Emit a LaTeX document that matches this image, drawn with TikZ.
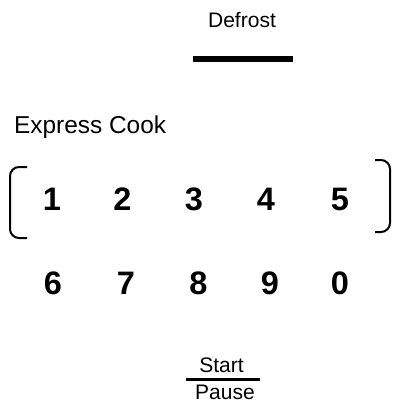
\documentclass[tikz,border=0pt]{standalone}
\usepackage{fontspec}
\setmainfont{Liberation Sans}
\tikzset{
  lbl/.style={inner sep=0pt, font=\fontsize{21}{25}\selectfont},
  biglbl/.style={inner sep=0pt, font=\fontsize{24.4}{28}\selectfont},
  digit/.style={inner sep=0pt, anchor=base, font=\fontsize{32.5}{36}\selectfont\bfseries},
  bar/.style={line width=#1},
  brk/.style={line width=2pt, rounded corners=9pt}
}
\begin{document}
\begin{tikzpicture}[x=1pt,y=-1pt]
\useasboundingbox (0,0) rectangle (394,406);
\node[lbl, anchor=base] (defrost) at (242,28) {Defrost};
\coordinate (d1) at (193,59);
\coordinate (d2) at (293,59);
\draw[bar=6pt] (d1) -- (d2);
\node[biglbl, anchor=base west] (express) at (14,134) {Express Cook};
\node[digit] (k1) at (52,210) {1};
\node[digit] (k2) at (122.5,210) {2};
\node[digit] (k3) at (194,210) {3};
\node[digit] (k4) at (266,210) {4};
\node[digit] (k5) at (340,210) {5};
\node[digit] (k6) at (53,294) {6};
\node[digit] (k7) at (126,294) {7};
\node[digit] (k8) at (198.5,294) {8};
\node[digit] (k9) at (270,294) {9};
\node[digit] (k0) at (340,294) {0};
\draw[brk] (27,167) -- (10,167) -- (10,238) -- (27,238);
\draw[brk] (375,160) -- (390,160) -- (390,232) -- (375,232);
\node[lbl, anchor=base] (start) at (221.5,372) {Start};
\coordinate (s1) at (186,379.5);
\coordinate (s2) at (260,379.5);
\draw[bar=3pt] (s1) -- (s2);
\node[lbl, anchor=base] (pause) at (225,399) {Pause};
\end{tikzpicture}
\end{document}
